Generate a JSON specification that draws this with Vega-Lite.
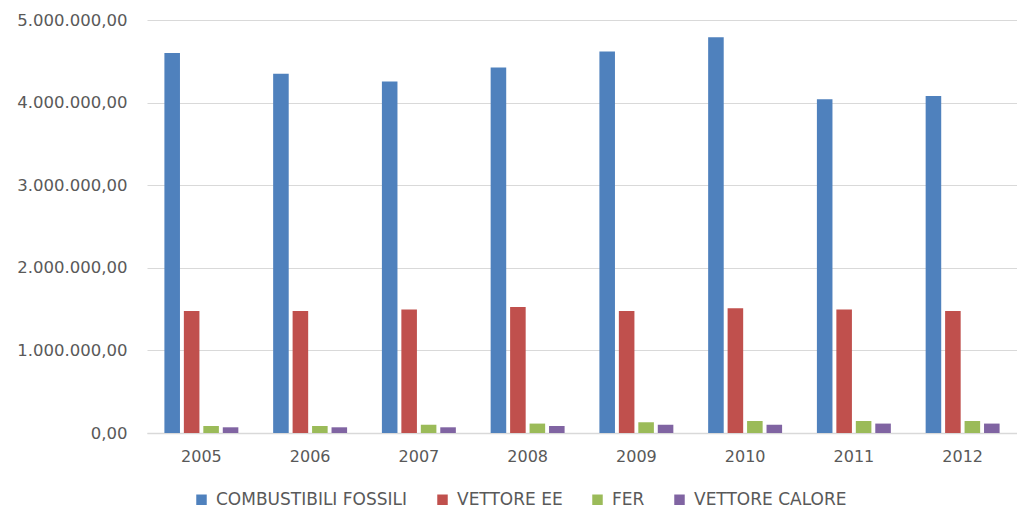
{
  "$schema": "https://vega.github.io/schema/vega-lite/v6.json",
  "autosize": "none",
  "width": 870,
  "height": 413,
  "padding": {"left": 147, "top": 20, "right": 0, "bottom": 76},
  "background": "white",
  "config": {
    "locale": {"number": {"decimal": ",", "thousands": ".", "grouping": [3], "currency": ["", " €"]}},
    "view": {"stroke": null},
    "font": "DejaVu Sans"
  },
  "data": {
    "values": [
      {"anno": "2005", "serie": "COMBUSTIBILI FOSSILI", "valore": 4600000},
      {"anno": "2005", "serie": "VETTORE EE", "valore": 1477000},
      {"anno": "2005", "serie": "FER", "valore": 85000},
      {"anno": "2005", "serie": "VETTORE CALORE", "valore": 69000},
      {"anno": "2006", "serie": "COMBUSTIBILI FOSSILI", "valore": 4350000},
      {"anno": "2006", "serie": "VETTORE EE", "valore": 1477000},
      {"anno": "2006", "serie": "FER", "valore": 85000},
      {"anno": "2006", "serie": "VETTORE CALORE", "valore": 69000},
      {"anno": "2007", "serie": "COMBUSTIBILI FOSSILI", "valore": 4255000},
      {"anno": "2007", "serie": "VETTORE EE", "valore": 1494000},
      {"anno": "2007", "serie": "FER", "valore": 100000},
      {"anno": "2007", "serie": "VETTORE CALORE", "valore": 69000},
      {"anno": "2008", "serie": "COMBUSTIBILI FOSSILI", "valore": 4425000},
      {"anno": "2008", "serie": "VETTORE EE", "valore": 1525000},
      {"anno": "2008", "serie": "FER", "valore": 114000},
      {"anno": "2008", "serie": "VETTORE CALORE", "valore": 85000},
      {"anno": "2009", "serie": "COMBUSTIBILI FOSSILI", "valore": 4620000},
      {"anno": "2009", "serie": "VETTORE EE", "valore": 1477000},
      {"anno": "2009", "serie": "FER", "valore": 130000},
      {"anno": "2009", "serie": "VETTORE CALORE", "valore": 100000},
      {"anno": "2010", "serie": "COMBUSTIBILI FOSSILI", "valore": 4790000},
      {"anno": "2010", "serie": "VETTORE EE", "valore": 1510000},
      {"anno": "2010", "serie": "FER", "valore": 145000},
      {"anno": "2010", "serie": "VETTORE CALORE", "valore": 100000},
      {"anno": "2011", "serie": "COMBUSTIBILI FOSSILI", "valore": 4040000},
      {"anno": "2011", "serie": "VETTORE EE", "valore": 1494000},
      {"anno": "2011", "serie": "FER", "valore": 145000},
      {"anno": "2011", "serie": "VETTORE CALORE", "valore": 114000},
      {"anno": "2012", "serie": "COMBUSTIBILI FOSSILI", "valore": 4080000},
      {"anno": "2012", "serie": "VETTORE EE", "valore": 1477000},
      {"anno": "2012", "serie": "FER", "valore": 145000},
      {"anno": "2012", "serie": "VETTORE CALORE", "valore": 114000}
    ]
  },
  "mark": {"type": "bar"},
  "encoding": {
    "x": {
      "field": "anno", "type": "nominal",
      "scale": {"paddingInner": 0.32, "paddingOuter": 0.16},
      "axis": {
        "title": null, "labelAngle": 0, "ticks": false,
        "domainColor": "#d9d9d9", "domainWidth": 1.5,
        "labelFontSize": 16, "labelColor": "#595959", "labelPadding": 15
      }
    },
    "xOffset": {
      "field": "serie", "type": "nominal",
      "sort": ["COMBUSTIBILI FOSSILI", "VETTORE EE", "FER", "VETTORE CALORE"],
      "scale": {"paddingInner": 0.2, "paddingOuter": 0}
    },
    "y": {
      "field": "valore", "type": "quantitative",
      "scale": {"domain": [0, 5000000], "nice": false},
      "axis": {
        "title": null, "format": ",.2f", "values": [0, 1000000, 2000000, 3000000, 4000000, 5000000],
        "labelOverlap": false,
        "domain": false, "ticks": false,
        "gridColor": "#d9d9d9", "gridWidth": 1.2,
        "labelFontSize": 16.5, "labelColor": "#595959", "labelPadding": 20
      }
    },
    "color": {
      "field": "serie", "type": "nominal",
      "sort": ["COMBUSTIBILI FOSSILI", "VETTORE EE", "FER", "VETTORE CALORE"],
      "scale": {
        "domain": ["COMBUSTIBILI FOSSILI", "VETTORE EE", "FER", "VETTORE CALORE"],
        "range": ["#4F81BD", "#C0504D", "#9BBB59", "#8064A2"]
      },
      "legend": {
        "title": null, "orient": "none", "direction": "horizontal",
        "legendX": 46, "legendY": 471,
        "symbolType": "square", "symbolSize": 110, "symbolStrokeWidth": 0,
        "labelFontSize": 17, "labelColor": "#595959", "labelLimit": 400,
        "columnPadding": 26, "labelOffset": 6
      }
    }
  }
}
